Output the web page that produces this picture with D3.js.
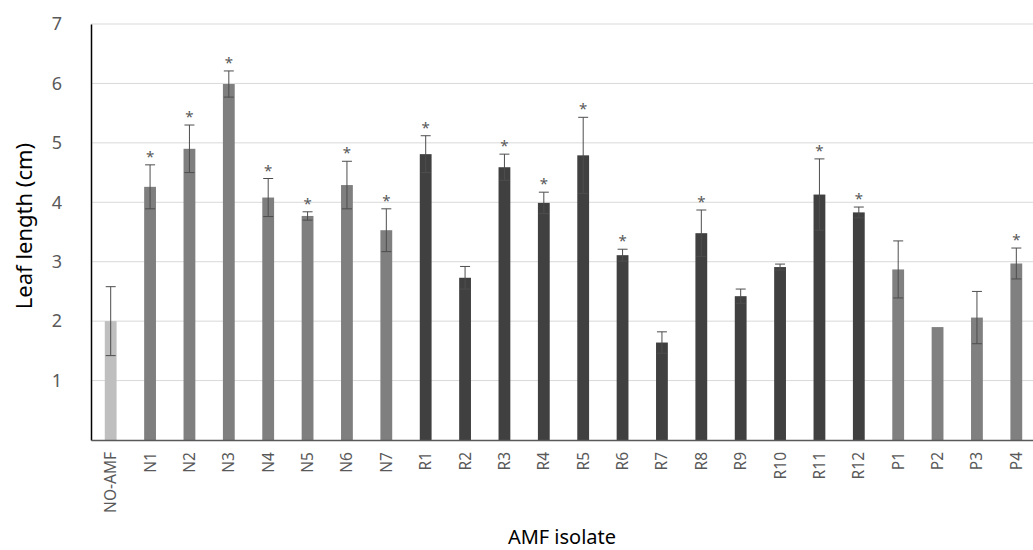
<!DOCTYPE html>
<html>
<head>
<meta charset="utf-8">
<script src="https://cdn.jsdelivr.net/npm/d3@7"></script>
<style>
  body { margin: 0; background: #fff; }
  text { font-family: "Noto Sans", "Open Sans", sans-serif; }
</style>
</head>
<body>
<div id="chart"></div>
<script>
// Isolates and their group (used for bar shade)
const isolates = ["NO-AMF", "N1", "N2", "N3", "N4", "N5", "N6", "N7",
  "R1", "R2", "R3", "R4", "R5", "R6", "R7", "R8", "R9", "R10", "R11", "R12",
  "P1", "P2", "P3", "P4"];
const groups = ["C", "N", "N", "N", "N", "N", "N", "N",
  "R", "R", "R", "R", "R", "R", "R", "R", "R", "R", "R", "R",
  "P", "P", "P", "P"];
// Mean leaf length (cm)
const leafLength = [2.00, 4.26, 4.90, 5.99, 4.08, 3.77, 4.29, 3.53,
  4.81, 2.73, 4.59, 3.99, 4.79, 3.11, 1.64, 3.48, 2.42, 2.91, 4.13, 3.83,
  2.87, 1.90, 2.06, 2.97];
// Error (+/-)
const errors = [0.58, 0.37, 0.40, 0.22, 0.32, 0.07, 0.40, 0.36,
  0.31, 0.19, 0.22, 0.18, 0.64, 0.10, 0.18, 0.39, 0.12, 0.05, 0.60, 0.09,
  0.48, 0.00, 0.44, 0.26];
// Significance marks
const significant = [false, true, true, true, true, true, true, true,
  true, false, true, true, true, true, false, true, false, false, true, true,
  false, false, false, true];
const yTicks = [1, 2, 3, 4, 5, 6, 7];

const groupColor = { C: "#bfbfbf", N: "#7f7f7f", R: "#404040", P: "#808080" };

const svgWidth = 1033, svgHeight = 550;
const margin = { top: 24, right: -3, bottom: 110, left: 91 };
const width = svgWidth - margin.left - margin.right;
const height = svgHeight - margin.top - margin.bottom;

const data = isolates.map((name, i) => ({
  name: name,
  group: groups[i],
  value: leafLength[i],
  err: errors[i],
  sig: significant[i]
}));

const svg = d3.select("#chart")
  .append("svg")
  .attr("width", svgWidth)
  .attr("height", svgHeight)
  .append("g")
  .attr("transform", "translate(" + margin.left + "," + margin.top + ")");

const x = d3.scaleBand()
  .domain(isolates)
  .range([0, width])
  .paddingInner(0.7)
  .paddingOuter(0.35);

const y = d3.scaleLinear()
  .domain([0, 7])
  .range([height, 0]);

// Gridlines
svg.append("g")
  .selectAll("line")
  .data(yTicks)
  .enter()
  .append("line")
  .attr("x1", 0)
  .attr("x2", width)
  .attr("y1", d => y(d))
  .attr("y2", d => y(d))
  .attr("stroke", "#d9d9d9")
  .attr("stroke-width", 1);

// Y axis
const yAxis = svg.append("g")
  .call(d3.axisLeft(y).tickValues(yTicks).tickSize(0).tickPadding(29).tickFormat(d3.format("d")));
yAxis.select(".domain").attr("stroke", "#000").attr("stroke-width", 1.5);
yAxis.selectAll("text")
  .attr("fill", "#595959")
  .style("font-size", "18px");

// Bars
svg.selectAll(".bar")
  .data(data)
  .enter()
  .append("rect")
  .attr("class", "bar")
  .attr("x", d => x(d.name))
  .attr("y", d => y(d.value))
  .attr("width", x.bandwidth())
  .attr("height", d => height - y(d.value))
  .attr("fill", d => groupColor[d.group]);

// Error bars
const eb = svg.selectAll(".err")
  .data(data.filter(d => d.err > 0))
  .enter()
  .append("g")
  .attr("class", "err")
  .attr("stroke", "#4d4d4d")
  .attr("stroke-width", 1);
const cx = d => x(d.name) + x.bandwidth() / 2;
eb.append("line")
  .attr("x1", cx).attr("x2", cx)
  .attr("y1", d => y(d.value + d.err))
  .attr("y2", d => y(d.value - d.err));
eb.append("line")
  .attr("x1", d => cx(d) - 5).attr("x2", d => cx(d) + 5)
  .attr("y1", d => y(d.value + d.err))
  .attr("y2", d => y(d.value + d.err));
eb.append("line")
  .attr("x1", d => cx(d) - 5).attr("x2", d => cx(d) + 5)
  .attr("y1", d => y(d.value - d.err))
  .attr("y2", d => y(d.value - d.err));

// Asterisks
svg.selectAll(".star")
  .data(data.filter(d => d.sig))
  .enter()
  .append("text")
  .attr("class", "star")
  .attr("x", cx)
  .attr("y", d => y(d.value + d.err) - 3)
  .attr("text-anchor", "middle")
  .attr("fill", "#595959")
  .style("font-size", "15px")
  .text("*");

// X axis
const xAxis = svg.append("g")
  .attr("transform", "translate(0," + height + ")")
  .call(d3.axisBottom(x).tickSize(0).tickPadding(0));
xAxis.select(".domain").attr("stroke", "#595959").attr("stroke-width", 1.5);
xAxis.selectAll("text")
  .attr("transform", "rotate(-90)")
  .attr("x", -12)
  .attr("y", 0)
  .attr("dy", "0.35em")
  .attr("text-anchor", "end")
  .attr("fill", "#595959")
  .style("font-size", "15.5px");

// Axis titles
svg.append("text")
  .attr("transform", "rotate(-90)")
  .attr("x", -height / 2 + 6)
  .attr("y", -margin.left + 32)
  .attr("text-anchor", "middle")
  .attr("fill", "#000")
  .style("font-size", "22px")
  .text("Leaf length (cm)");

svg.append("text")
  .attr("x", 562 - margin.left)
  .attr("y", 544 - margin.top)
  .attr("text-anchor", "middle")
  .attr("fill", "#000")
  .style("font-size", "20px")
  .text("AMF isolate");
</script>
</body>
</html>
